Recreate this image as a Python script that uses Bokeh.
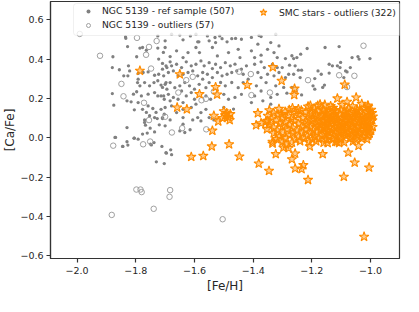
from bokeh.plotting import figure
from bokeh.models import (ColumnDataSource, FixedTicker, Legend, LegendItem,
                          BoxAnnotation, Range1d)
from bokeh.embed import file_html
from bokeh.resources import INLINE

# ---------------- data ([Fe/H], [Ca/Fe]) ----------------
ngc_ref = [
    (-1.834, 0.506), (-1.828, 0.464), (-1.786, 0.456), (-1.777, 0.459), (-1.764, 0.445),
    (-1.725, 0.456), (-1.706, 0.434), (-1.878, 0.412), (-1.797, 0.412), (-1.722, 0.400),
    (-1.709, 0.378), (-1.697, 0.366), (-1.880, 0.357), (-1.825, 0.366), (-1.821, 0.340),
    (-1.856, 0.346), (-1.841, 0.315), (-1.827, 0.315), (-1.792, 0.327), (-1.775, 0.332),
    (-1.758, 0.335), (-1.736, 0.318), (-1.722, 0.323), (-1.709, 0.349), (-1.792, 0.298),
    (-1.794, 0.281), (-1.786, 0.264), (-1.770, 0.281), (-1.753, 0.264), (-1.738, 0.281),
    (-1.725, 0.290), (-1.714, 0.268), (-1.709, 0.256), (-1.697, 0.281), (-1.880, 0.225),
    (-1.808, 0.222), (-1.797, 0.234), (-1.781, 0.213), (-1.758, 0.222), (-1.736, 0.230),
    (-1.725, 0.213), (-1.714, 0.213), (-1.703, 0.196), (-1.875, 0.166), (-1.830, 0.188),
    (-1.816, 0.183), (-1.792, 0.179), (-1.758, 0.162), (-1.742, 0.149), (-1.731, 0.129),
    (-1.714, 0.145), (-1.703, 0.120), (-1.805, 0.142), (-1.777, 0.145), (-1.764, 0.129),
    (-1.736, 0.103), (-1.709, 0.098), (-1.770, 0.091), (-1.753, 0.112),
    (-1.727, 0.098), (-1.709, 0.103), (-1.770, 0.078), (-1.767, 0.064), (-1.720, 0.066),
    (-1.830, 0.052), (-1.751, 0.049), (-1.736, 0.030), (-1.777, 0.019), (-1.761, 0.024),
    (-1.869, 0.002), (-1.806, -0.002), (-1.792, -0.007), (-1.830, -0.020), (-1.845, -0.044),
    (-1.738, -0.024), (-1.747, -0.036), (-1.711, -0.044), (-1.697, -0.075),
    (-1.844, -0.044), (-1.750, -0.032), (-1.681, -0.061), (-1.696, -0.078), (-1.678, -0.086),
    (-1.730, -0.122), (-1.703, -0.131), (-1.827, -0.037), (-1.805, -0.002), (-1.871, 0.002),
    (-1.678, 0.527), (-1.595, 0.527), (-1.556, 0.518), (-1.506, 0.504), (-1.473, 0.504),
    (-1.440, 0.501), (-1.406, 0.510), (-1.373, 0.515), (-1.323, 0.527), (-1.700, 0.493),
    (-1.639, 0.498), (-1.585, 0.488), (-1.550, 0.493), (-1.528, 0.484), (-1.489, 0.488),
    (-1.384, 0.476), (-1.340, 0.484), (-1.312, 0.467), (-1.683, 0.413), (-1.661, 0.442),
    (-1.622, 0.433), (-1.595, 0.459), (-1.583, 0.433), (-1.539, 0.459), (-1.522, 0.416),
    (-1.484, 0.433), (-1.451, 0.450), (-1.445, 0.408), (-1.406, 0.442), (-1.395, 0.408),
    (-1.373, 0.420), (-1.351, 0.450), (-1.329, 0.433), (-1.318, 0.408), (-1.700, 0.459),
    (-1.639, 0.408), (-1.694, 0.357), (-1.678, 0.366), (-1.661, 0.374), (-1.644, 0.357),
    (-1.628, 0.386), (-1.611, 0.366), (-1.595, 0.374), (-1.578, 0.391), (-1.567, 0.366),
    (-1.550, 0.382), (-1.528, 0.374), (-1.511, 0.357), (-1.495, 0.382), (-1.478, 0.366),
    (-1.462, 0.374), (-1.440, 0.349), (-1.423, 0.366), (-1.395, 0.374), (-1.373, 0.386),
    (-1.362, 0.357), (-1.334, 0.374), (-1.318, 0.357), (-1.683, 0.386), (-1.539, 0.352),
    (-1.705, 0.315), (-1.689, 0.332), (-1.672, 0.340), (-1.656, 0.315), (-1.639, 0.323),
    (-1.622, 0.332), (-1.606, 0.340), (-1.589, 0.315), (-1.572, 0.332), (-1.556, 0.323),
    (-1.539, 0.306), (-1.522, 0.332), (-1.506, 0.315), (-1.489, 0.323), (-1.473, 0.332),
    (-1.456, 0.340), (-1.434, 0.323), (-1.417, 0.298), (-1.384, 0.332), (-1.373, 0.306),
    (-1.351, 0.323), (-1.329, 0.315), (-1.312, 0.332), (-1.700, 0.272), (-1.683, 0.281),
    (-1.667, 0.255), (-1.650, 0.264), (-1.633, 0.281), (-1.617, 0.264), (-1.600, 0.247),
    (-1.584, 0.272), (-1.561, 0.255), (-1.550, 0.281), (-1.511, 0.281), (-1.495, 0.264),
    (-1.473, 0.281), (-1.451, 0.255), (-1.434, 0.281), (-1.389, 0.264), (-1.373, 0.238),
    (-1.356, 0.281), (-1.323, 0.264), (-1.694, 0.247), (-1.644, 0.238), (-1.572, 0.298),
    (-1.705, 0.213), (-1.689, 0.221), (-1.672, 0.205), (-1.656, 0.196), (-1.628, 0.213),
    (-1.611, 0.230), (-1.600, 0.196), (-1.561, 0.213), (-1.545, 0.196), (-1.500, 0.221),
    (-1.484, 0.196), (-1.462, 0.205), (-1.440, 0.221), (-1.395, 0.213), (-1.367, 0.188),
    (-1.340, 0.205), (-1.318, 0.221), (-1.683, 0.188), (-1.639, 0.179), (-1.700, 0.154),
    (-1.678, 0.162), (-1.661, 0.128), (-1.639, 0.145), (-1.611, 0.154), (-1.595, 0.171),
    (-1.578, 0.128), (-1.561, 0.145), (-1.550, 0.103), (-1.639, 0.103), (-1.606, 0.091),
    (-1.578, 0.086), (-1.683, 0.091), (-1.406, 0.179), (-1.340, 0.171),
    (-1.639, 0.069), (-1.700, 0.061), (-1.650, 0.035), (-1.633, 0.027), (-1.615, 0.041),
    (-1.589, 0.103), (-1.534, 0.091), (-1.500, 0.154), (-1.467, 0.146),
    (-1.216, 0.454), (-1.155, 0.459), (-1.107, 0.464), (-1.290, 0.403), (-1.268, 0.417),
    (-1.262, 0.403), (-1.251, 0.408), (-1.238, 0.425), (-1.257, 0.366), (-1.301, 0.357),
    (-1.276, 0.369), (-1.246, 0.344), (-1.235, 0.344), (-1.279, 0.323), (-1.262, 0.323),
    (-1.290, 0.306), (-1.240, 0.306), (-1.179, 0.340), (-1.168, 0.323), (-1.190, 0.301),
    (-1.141, 0.329), (-1.141, 0.374), (-1.130, 0.366), (-1.113, 0.366), (-1.102, 0.383),
    (-1.104, 0.357), (-1.085, 0.340), (-1.069, 0.357), (-1.063, 0.408), (-1.043, 0.413),
    (-1.039, 0.400), (-1.002, 0.403), (-1.296, 0.256), (-1.285, 0.227), (-1.268, 0.256),
    (-1.235, 0.218), (-1.196, 0.264), (-1.190, 0.247), (-1.163, 0.256), (-1.157, 0.268),
    (-1.080, 0.335), (-1.091, 0.306),
    (-1.835, 0.513), (-1.650, 0.522), (-1.589, 0.488), (-1.725, 0.518), (-1.614, 0.518),
    (-1.514, 0.518), (-1.380, 0.520), (-1.530, 0.510), (-1.460, 0.505),
]

ngc_out = [
    (-1.991, 0.528), (-1.922, 0.417), (-1.849, 0.274), (-1.842, 0.211), (-1.796, 0.508),
    (-1.755, 0.462), (-1.729, 0.492), (-1.765, 0.422), (-1.748, 0.352), (-1.772, 0.178),
    (-1.755, 0.090), (-1.877, -0.040), (-1.775, -0.033), (-1.751, -0.019), (-1.677, 0.027),
    (-1.642, 0.049), (-1.628, 0.293), (-1.655, 0.230), (-1.576, 0.191), (-1.560, 0.043),
    (-1.798, -0.263), (-1.784, -0.263), (-1.780, -0.276), (-1.683, -0.266), (-1.685, -0.300),
    (-1.739, -0.361), (-1.882, -0.392), (-1.504, -0.414), (-1.024, 0.468), (-1.107, 0.318),
    (-1.055, 0.315), (-1.213, 0.293), (-1.257, 0.244), (-1.343, 0.230), (-1.408, 0.324),
    (-1.448, 0.336), (-1.080, 0.258), (-1.534, 0.235), (-1.561, 0.198), (-1.606, 0.310),
    (-1.406, 0.217), (-1.700, 0.107),
]

smc_out = [
    # scattered
    (-1.786, 0.341), (-1.650, 0.323), (-1.583, 0.222), (-1.659, 0.154), (-1.626, 0.145),
    (-1.611, -0.097), (-1.570, -0.092), (-1.534, 0.112), (-1.519, 0.083), (-1.539, 0.036),
    (-1.500, 0.135), (-1.490, 0.125), (-1.485, 0.105), (-1.495, 0.115), (-1.478, 0.120),
    (-1.505, 0.100), (-1.480, 0.090), (-1.541, -0.044), (-1.482, -0.033), (-1.447, -0.095),
    (-1.384, 0.125), (-1.390, 0.064), (-1.373, 0.074), (-1.351, 0.086), (-1.353, 0.044),
    (-1.334, -0.020), (-1.323, -0.083), (-1.381, -0.131), (-1.346, -0.168), (-1.268, -0.109),
    (-1.257, -0.156), (-1.235, -0.159), (-1.229, -0.139), (-1.213, -0.214), (-1.257, -0.080),
    (-1.207, -0.044), (-1.163, -0.083), (-1.146, -0.027), (-1.076, -0.075), (-1.054, -0.126),
    (-1.091, -0.198), (-1.005, -0.151), (-1.041, -0.041), (-1.022, -0.503), (-1.297, -0.050),
    (-1.288, -0.034), (-1.279, -0.052), (-1.334, -0.029), (-1.115, -0.021), (-1.107, -0.026),
    (-1.528, 0.258), (-1.523, 0.220), (-1.420, 0.268), (-1.333, 0.359), (-1.303, 0.290),
    (-1.259, 0.250), (-1.260, 0.218), (-1.088, 0.270), (-1.113, 0.200), (-1.049, 0.205),
    (-1.080, 0.183), (-1.008, 0.159), (-1.180, 0.163), (-1.156, 0.168), (-1.213, 0.159),
    (-1.246, 0.146), (-1.277, 0.142), (-1.303, 0.120),
    # main SMC clump
    (-1.205, 0.163), (-1.172, 0.170), (-1.136, 0.161), (-1.097, 0.167), (-1.061, 0.160),
    (-1.030, 0.172), (-1.009, 0.164),
    (-1.345, 0.140), (-1.312, 0.147), (-1.266, 0.151), (-1.236, 0.139), (-1.190, 0.148),
    (-1.161, 0.143), (-1.128, 0.152), (-1.101, 0.141), (-1.076, 0.149), (-1.046, 0.144),
    (-1.021, 0.153), (-0.998, 0.142),
    (-1.330, 0.127), (-1.291, 0.133), (-1.255, 0.126), (-1.221, 0.131), (-1.201, 0.124),
    (-1.180, 0.135), (-1.152, 0.128), (-1.139, 0.122), (-1.118, 0.134), (-1.090, 0.127),
    (-1.068, 0.131), (-1.052, 0.123), (-1.035, 0.136), (-1.012, 0.129), (-0.995, 0.125),
    (-1.350, 0.112), (-1.315, 0.118), (-1.280, 0.111), (-1.246, 0.116), (-1.210, 0.113),
    (-1.186, 0.119), (-1.166, 0.110), (-1.148, 0.117), (-1.125, 0.112), (-1.105, 0.120),
    (-1.085, 0.114), (-1.061, 0.109), (-1.042, 0.118), (-1.025, 0.111), (-1.005, 0.116),
    (-0.992, 0.108),
    (-1.338, 0.097), (-1.301, 0.103), (-1.270, 0.095), (-1.231, 0.101), (-1.196, 0.098),
    (-1.176, 0.104), (-1.156, 0.094), (-1.138, 0.100), (-1.120, 0.096), (-1.098, 0.103),
    (-1.079, 0.097), (-1.058, 0.101), (-1.038, 0.094), (-1.018, 0.102), (-0.998, 0.097),
    (-1.356, 0.083), (-1.321, 0.088), (-1.290, 0.081), (-1.260, 0.086), (-1.221, 0.084),
    (-1.201, 0.089), (-1.182, 0.080), (-1.162, 0.087), (-1.143, 0.082), (-1.128, 0.088),
    (-1.108, 0.079), (-1.088, 0.085), (-1.070, 0.090), (-1.050, 0.081), (-1.030, 0.087),
    (-1.012, 0.083), (-0.994, 0.089),
    (-1.345, 0.068), (-1.310, 0.073), (-1.276, 0.066), (-1.245, 0.071), (-1.215, 0.067),
    (-1.190, 0.074), (-1.170, 0.065), (-1.150, 0.070), (-1.133, 0.075), (-1.115, 0.066),
    (-1.095, 0.072), (-1.078, 0.068), (-1.060, 0.074), (-1.040, 0.065), (-1.022, 0.071),
    (-1.003, 0.067),
    (-1.330, 0.052), (-1.300, 0.058), (-1.265, 0.051), (-1.235, 0.056), (-1.205, 0.053),
    (-1.181, 0.059), (-1.160, 0.050), (-1.140, 0.055), (-1.121, 0.052), (-1.100, 0.058),
    (-1.082, 0.051), (-1.065, 0.056), (-1.045, 0.053), (-1.028, 0.059), (-1.008, 0.050),
    (-0.993, 0.055),
    (-1.318, 0.037), (-1.285, 0.042), (-1.250, 0.036), (-1.222, 0.041), (-1.195, 0.038),
    (-1.170, 0.044), (-1.148, 0.035), (-1.130, 0.040), (-1.110, 0.037), (-1.090, 0.043),
    (-1.070, 0.036), (-1.052, 0.041), (-1.033, 0.038), (-1.015, 0.044), (-0.998, 0.036),
    (-1.330, 0.023), (-1.298, 0.027), (-1.265, 0.021), (-1.232, 0.026), (-1.205, 0.022),
    (-1.183, 0.028), (-1.158, 0.020), (-1.137, 0.025), (-1.118, 0.022), (-1.098, 0.028),
    (-1.078, 0.021), (-1.060, 0.026), (-1.040, 0.023), (-1.020, 0.029), (-1.003, 0.022),
    (-1.310, 0.008), (-1.275, 0.013), (-1.245, 0.006), (-1.215, 0.011), (-1.190, 0.007),
    (-1.165, 0.013), (-1.143, 0.005), (-1.125, 0.010), (-1.105, 0.006), (-1.085, 0.012),
    (-1.065, 0.007), (-1.045, 0.011), (-1.025, 0.005), (-1.008, 0.010),
    (-1.320, -0.007), (-1.288, -0.002), (-1.255, -0.009), (-1.225, -0.004), (-1.198, -0.008),
    (-1.175, -0.003), (-1.150, -0.010), (-1.130, -0.005), (-1.100, -0.008), (-1.070, -0.003),
    (-1.050, -0.009), (-1.030, -0.004), (-1.012, -0.007),
    (-1.300, -0.019), (-1.268, -0.024), (-1.240, -0.017), (-1.210, -0.022), (-1.185, -0.018),
    (-1.160, -0.025), (-1.120, -0.020), (-1.090, -0.023), (-1.060, -0.018),
    (-1.160, 0.137), (-1.125, 0.139), (-1.080, 0.136), (-1.045, 0.138), (-1.005, 0.135),
    (-1.150, 0.092), (-1.115, 0.091), (-1.068, 0.093), (-1.025, 0.092), (-1.152, 0.062),
    (-1.108, 0.061), (-1.070, 0.060), (-1.015, 0.062), (-1.145, 0.031), (-1.090, 0.032),
    (-1.050, 0.030), (-1.010, 0.031), (-1.130, 0.107), (-1.085, 0.106), (-1.048, 0.108),
    (-1.010, 0.105),
]

x_ticks = [-2.0, -1.8, -1.6, -1.4, -1.2, -1.0]
x_tick_labels = ["\u22122.0", "\u22121.8", "\u22121.6", "\u22121.4", "\u22121.2", "\u22121.0"]
y_ticks = [-0.6, -0.4, -0.2, 0.0, 0.2, 0.4, 0.6]
y_tick_labels = ["\u22120.6", "\u22120.4", "\u22120.2", "0.0", "0.2", "0.4", "0.6"]

label_ref = "NGC 5139 - ref sample (507)"
label_out = "NGC 5139 - outliers (57)"
label_smc = "SMC stars - outliers (322)"

def src(pts):
    return ColumnDataSource(dict(x=[p[0] for p in pts], y=[p[1] for p in pts]))

FONT = "DejaVu Sans"
TXT = "#262626"

p = figure(width=403, height=296, output_backend="svg", toolbar_location=None,
           x_range=Range1d(-2.0907, -0.9013), y_range=Range1d(-0.6136, 0.6929),
           min_border_left=41, min_border_right=4, min_border_top=1, min_border_bottom=38)
p.background_fill_color = "white"
p.border_fill_color = "white"
p.grid.visible = False
p.outline_line_color = "#333333"
p.outline_line_width = 1.2

r_ref = p.scatter("x", "y", source=src(ngc_ref), marker="circle", size=3.3,
                  fill_color="#808080", line_color=None)
r_out = p.scatter("x", "y", source=src(ngc_out), marker="circle", size=5.5,
                  fill_color=None, line_color="#a0a0a0", line_width=1)
r_smc = p.scatter("x", "y", source=src(smc_out), marker="star", size=10,
                  fill_color="#ff8c00", fill_alpha=0.45, line_color="#ff8c00", line_width=1.1)
r_empty = p.scatter("x", "y", source=src([]), marker="circle", size=3,
                    fill_color=None, line_color="#cccccc", line_width=1)

for ax, ticks, labels in ((p.xaxis[0], x_ticks, x_tick_labels), (p.yaxis[0], y_ticks, y_tick_labels)):
    ax.ticker = FixedTicker(ticks=ticks)
    ax.major_label_overrides = dict(zip(ticks, labels))
    ax.minor_tick_line_color = None
    ax.major_tick_out = 4
    ax.major_tick_in = 0
    ax.major_tick_line_color = "#333333"
    ax.major_tick_line_width = 1.2
    ax.axis_line_color = "#333333"
    ax.axis_line_width = 1.2
    ax.major_label_text_font = FONT
    ax.major_label_text_font_size = "9.5px"
    ax.major_label_text_color = TXT
    ax.axis_label_text_font = FONT
    ax.axis_label_text_font_size = "12px"
    ax.axis_label_text_font_style = "normal"
    ax.axis_label_text_color = TXT

p.xaxis.axis_label = "[Fe/H]"
p.yaxis.axis_label = "[Ca/Fe]"
p.xaxis.major_label_standoff = 4
p.xaxis.axis_label_standoff = 2
p.yaxis.major_label_standoff = 3
p.yaxis.axis_label_standoff = 0

box = BoxAnnotation(left=23, right=353, top=255, bottom=223,
                    left_units="screen", right_units="screen",
                    top_units="screen", bottom_units="screen",
                    fill_color="white", fill_alpha=0.8,
                    line_color="#cccccc", line_width=1, border_radius=3)
p.add_layout(box)

def mk_legend(items, loc, gw, gh, standoff):
    lg = Legend(items=items, location=loc, orientation="vertical",
                glyph_width=gw, glyph_height=gh, label_height=gh, spacing=3,
                padding=0, margin=0, label_standoff=standoff,
                label_text_font=FONT, label_text_font_size="9.2px",
                label_text_color=TXT, border_line_color=None,
                background_fill_color=None, background_fill_alpha=0)
    return lg

leg_a = mk_legend([LegendItem(label=label_ref, renderers=[r_ref]),
                   LegendItem(label=label_out, renderers=[r_out])], (28, 228), 20, 10, 4)
leg_b = mk_legend([LegendItem(label=label_smc, renderers=[r_smc])], (203, 237), 20, 18, 6)
leg_c = mk_legend([LegendItem(label=" ", renderers=[r_empty])], (247, 229), 8, 8, 2)
for lg in (leg_a, leg_b, leg_c):
    p.add_layout(lg)

open("out.html", "w").write(file_html(p, INLINE))
